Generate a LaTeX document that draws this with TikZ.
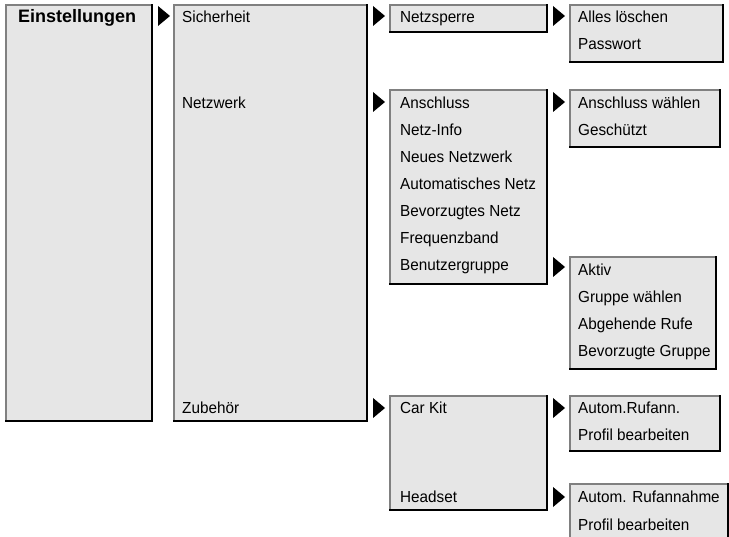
\documentclass[tikz,border=0pt]{standalone}
\usepackage{fontspec}
\setmainfont{Liberation Sans}
\newfontfamily\itemfont[FakeStretch=0.955]{Liberation Sans}
\definecolor{boxgray}{RGB}{230,230,230}
\definecolor{edgegray}{RGB}{128,128,128}
\tikzset{
  mbox/.style={rectangle, fill=boxgray, draw=none, inner sep=0pt, outer sep=0pt},
  lightedge/.style={draw=edgegray, line width=1.3pt},
  darkedge/.style={draw=black, line width=2.6pt, line cap=rect},
  item/.style={inner sep=0pt, anchor=base west, font=\itemfont\fontsize{16}{18}\selectfont},
  head/.style={inner sep=0pt, anchor=base west, font=\bfseries\fontsize{18}{20}\selectfont},
  marker/.style={fill=black}
}
\newcommand{\menubox}[5]{%
  \node[mbox, minimum width={(#4-#2)*1pt}, minimum height={(#5-#3)*1pt}, anchor=north west] (#1) at (#2,#3) {};
  \draw[lightedge] (#1.south west) -- (#1.north west) -- (#1.north east);
  \draw[darkedge] (#1.north east) -- (#1.south east) -- (#1.south west);
}
\newcommand{\tri}[2]{%
  \fill[marker] (#1-6,#2-10) -- (#1+6,#2) -- (#1-6,#2+10) -- cycle;
}
\begin{document}
\begin{tikzpicture}[x=1pt,y=-1pt]
\useasboundingbox (0,0) rectangle (729,537);
\clip (0,0) rectangle (729,537);
% boxes
\menubox{A}{6}{5}{152}{421}
\menubox{B}{174}{5}{367}{421}
\menubox{C}{390}{5}{547}{32}
\menubox{D}{570}{5}{723}{62}
\menubox{E}{390}{90}{547}{284}
\menubox{G}{570}{90}{720}{147}
\menubox{F}{570}{257}{716}{369}
\menubox{H}{390}{396}{547}{510}
\menubox{I}{570}{396}{720}{451}
\menubox{J}{570}{484}{728}{560}
% markers
\tri{164}{16}
\tri{379}{16}
\tri{559}{16}
\tri{379}{102}
\tri{559}{102}
\tri{559}{267}
\tri{379}{408}
\tri{559}{408}
\tri{559}{497}
% texts
\node[head] (tEin) at (18,23) {Einstellungen};
\node[item] (tSich) at (182,23) {Sicherheit};
\node[item] (tNetz) at (182,109) {Netzwerk};
\node[item] (tZub) at (182,414) {Zubehör};
\node[item] (tSperre) at (400,23) {Netzsperre};
\node[item] (tAlles) at (578,23) {Alles löschen};
\node[item] (tPass) at (578,50) {Passwort};
\node[item] (tAn) at (400,109) {Anschluss};
\node[item] (tInfo) at (400,136) {Netz-Info};
\node[item] (tNeu) at (400,163) {Neues Netzwerk};
\node[item] (tAuto) at (400,190) {Automatisches Netz};
\node[item] (tBev) at (400,217) {Bevorzugtes Netz};
\node[item] (tFreq) at (400,244) {Frequenzband};
\node[item] (tBen) at (400,271) {Benutzergruppe};
\node[item] (tAnW) at (578,109) {Anschluss wählen};
\node[item] (tGes) at (578,136) {Geschützt};
\node[item] (tAkt) at (578,276) {Aktiv};
\node[item] (tGrW) at (578,303) {Gruppe wählen};
\node[item] (tAbg) at (578,330) {Abgehende Rufe};
\node[item] (tBevG) at (578,357) {Bevorzugte Gruppe};
\node[item] (tCar) at (400,414) {Car Kit};
\node[item] (tHead) at (400,503) {Headset};
\node[item] (tRuf1) at (578,414) {Autom.Rufann.};
\node[item] (tProf1) at (578,441) {Profil bearbeiten};
\node[item] (tRuf2) at (578,503) {Autom. Rufannahme};
\node[item] (tProf2) at (578,530) {Profil bearbeiten};
\end{tikzpicture}
\end{document}
